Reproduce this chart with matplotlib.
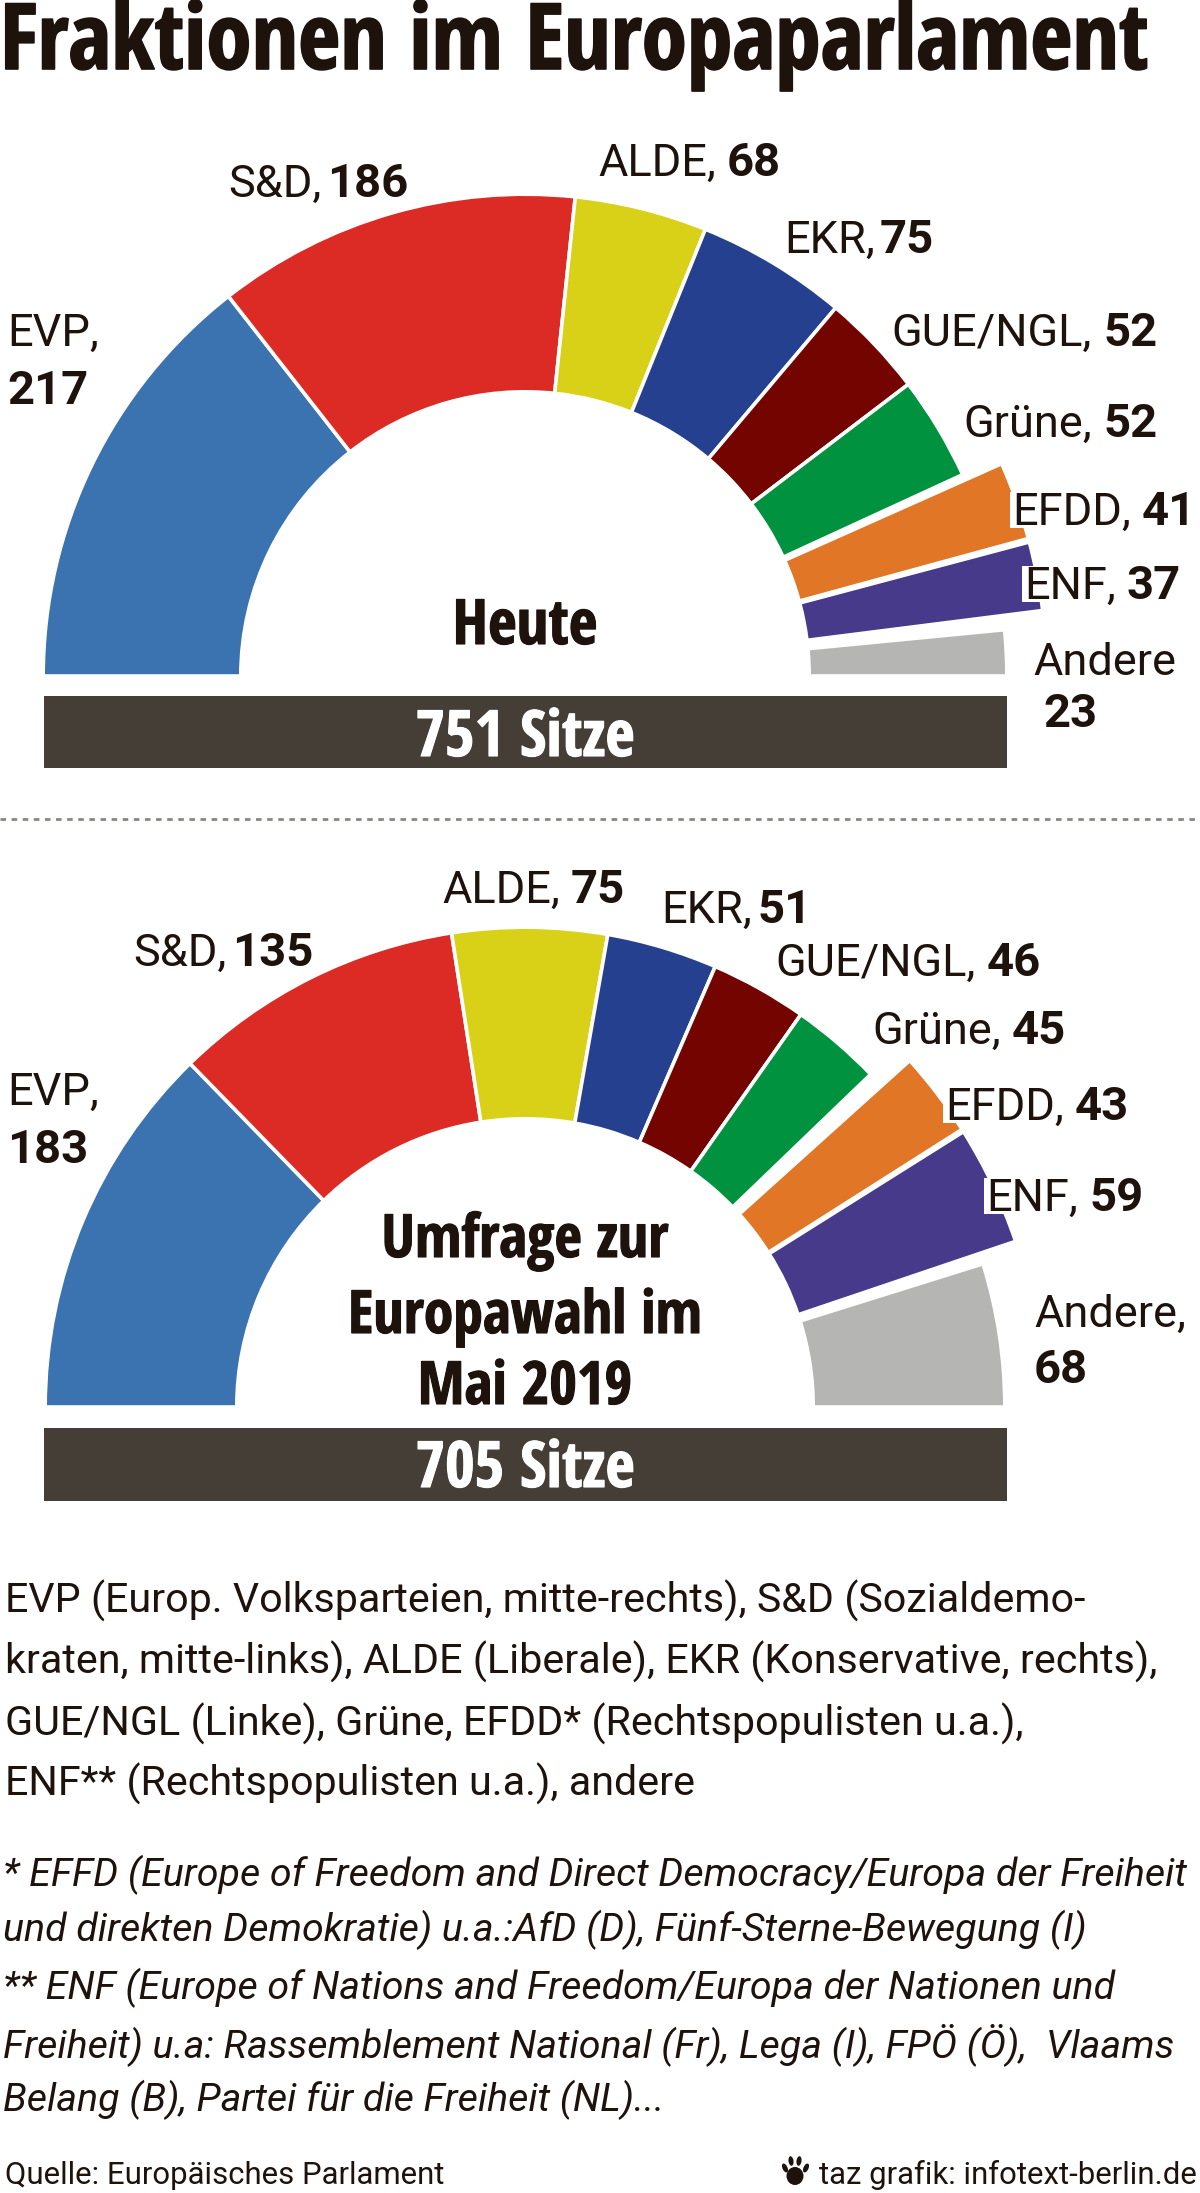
#!/usr/bin/env python3
# Fraktionen im Europaparlament - two half-circle seat charts, drawn on a pixel canvas
import matplotlib
matplotlib.use("Agg")
import matplotlib.pyplot as plt
import matplotlib.patheffects as pe
from matplotlib.patches import Wedge, Rectangle, Ellipse
from matplotlib.font_manager import FontProperties

groups = ["EVP", "S&D", "ALDE", "EKR", "GUE/NGL", "Grüne", "EFDD", "ENF", "Andere"]
seats_today = [217, 186, 68, 75, 52, 52, 41, 37, 23]
seats_poll = [183, 135, 75, 51, 46, 45, 43, 59, 68]
colors = ["#3b73b0", "#dc2b25", "#d9d118", "#25408f", "#730400",
          "#00923f", "#e07626", "#483a8a", "#b5b5b4"]

TEXT = "#1e130c"
BAR = "#453e37"
LABEL_SIZE = 32.5
NUM_SIZE = 34

W, H = 1200, 2193
fig = plt.figure(figsize=(W / 100, H / 100), dpi=100)
ax = fig.add_axes([0, 0, 1, 1])
ax.set_xlim(0, W)
ax.set_ylim(H, 0)
ax.axis("off")
renderer = fig.canvas.get_renderer()

cond_bold = dict(family="Open Sans Condensed", stretch="condensed", weight=700)


def thin(x, y, s, size=LABEL_SIZE, ha="left", box=False, **kw):
    t = ax.text(x, y, s, fontproperties=FontProperties(size=size, family="Roboto", **kw), ha=ha,
                va="baseline", color=TEXT, zorder=5)
    if box:
        # white notch in the wedge behind the label, down to just under the baseline
        bb = t.get_window_extent(renderer)
        top = H - bb.y1
        ax.add_patch(Rectangle((bb.x0 - 2, top), bb.width + 2, y + 3 - top,
                               facecolor="white", edgecolor="none", zorder=4))
    return t


def number(x, y, s, size=NUM_SIZE):
    return ax.text(x, y, s, fontproperties=FontProperties(size=size, family="Roboto", weight=700),
                   va="baseline", color=TEXT, zorder=6)


def heavy(x, y, s, size=42, ha="center", color=TEXT, stroke=0.8):
    return ax.text(x, y, s, fontproperties=FontProperties(size=size, **cond_bold), ha=ha,
                   va="baseline", color=color, zorder=6,
                   path_effects=[pe.withStroke(linewidth=stroke, foreground=color)])


def half_circle(values, cx, cy, r_in, r_out, pads, big):
    # pads: degrees added to start/end of a wedge, big: outer radius of pulled out wedges
    total = sum(values)
    cum = 0
    for i, v in enumerate(values):
        t1 = 180 + cum / total * 180 + pads.get(i, (0, 0))[0]
        t2 = 180 + (cum + v) / total * 180 + pads.get(i, (0, 0))[1]
        cum += v
        rr = big.get(i, r_out) + 1.8
        ax.add_patch(Wedge((cx, cy), rr, t1, t2, width=rr - r_in + 1.8,
                           facecolor=colors[i], edgecolor="white", linewidth=2.6, zorder=2))


half_circle(seats_today, 525, 676, 286, 480,
            {1: (0, -0.6), 2: (-0.6, -0.9), 3: (-0.9, -0.7), 4: (-0.7, -0.6), 5: (-0.6, -0.5),
             6: (0.2, -0.9), 7: (-0.5, -1.7)}, {6: 520, 7: 520})
half_circle(seats_poll, 525, 1407, 290, 478,
            {0: (0, -1.0), 1: (-1.0, 0), 2: (0, -0.4), 3: (-0.4, 0), 5: (0, -0.5),
             6: (1.4, 0), 7: (0.3, -1.3)}, {6: 516, 7: 516})

# white strip below the wedges, so that Andere ends flat
ax.add_patch(Rectangle((0, 676), W, 20, facecolor="white", edgecolor="none", zorder=3))
ax.add_patch(Rectangle((0, 1407), W, 21, facecolor="white", edgecolor="none", zorder=3))

ax.add_patch(Rectangle((44, 696), 963, 72, facecolor=BAR, edgecolor="none", zorder=4))
ax.add_patch(Rectangle((44, 1428), 963, 73, facecolor=BAR, edgecolor="none", zorder=4))
ax.plot([0, W], [819, 819], color="#8a8680", lw=2, ls=(0, (2, 2)), zorder=1)

heavy(0, 69, "Fraktionen im Europaparlament", size=66, ha="left", stroke=1.2)

# labels: name right aligned, seats left aligned, around the same x
labels_today = [(322, 197, 1), (716, 176, 2), (875, 253, 3), (1092, 346, 4),
                (1092, 437, 5), (1131, 525, 6), (1116, 599, 7)]
labels_poll = [(227, 966, 1), (560, 903, 2), (752, 923, 3), (976, 976, 4),
               (1001, 1044, 5), (1064, 1120, 6), (1078, 1211, 7)]

for series, lab in ((seats_today, labels_today), (seats_poll, labels_poll)):
    for x, y, i in lab:
        thin(x, y, groups[i] + ",", ha="right", box=i in (6, 7))
        number(x + (5 if i in (1, 3) else 11), y, str(series[i]))

thin(7, 346, "EVP,")
number(7, 404, str(seats_today[0]))
thin(1033, 675, "Andere")
number(1043, 727, str(seats_today[8]))
thin(7, 1105, "EVP,")
number(7, 1163, str(seats_poll[0]))
thin(1034, 1327, "Andere,")
number(1034, 1383, str(seats_poll[8]))

heavy(525, 644, "Heute", size=45)
heavy(525, 756, "751 Sitze", size=46, color="white")
heavy(525, 1257, "Umfrage zur", size=43)
heavy(525, 1333, "Europawahl im", size=43)
heavy(525, 1404, "Mai 2019", size=43)
heavy(525, 1487, "705 Sitze", size=46, color="white")

body = ["EVP (Europ. Volksparteien, mitte-rechts), S&D (Sozialdemo-",
        "kraten, mitte-links), ALDE (Liberale), EKR (Konservative, rechts),",
        "GUE/NGL (Linke), Grüne, EFDD* (Rechtspopulisten u.a.),",
        "ENF** (Rechtspopulisten u.a.), andere"]
for line, y in zip(body, [1613, 1674, 1736, 1796]):
    thin(5, y, line, size=29.7)

notes = ["* EFFD (Europe of Freedom and Direct Democracy/Europa der Freiheit",
         "und direkten Demokratie) u.a.:AfD (D), Fünf-Sterne-Bewegung (I)",
         "** ENF (Europe of Nations and Freedom/Europa der Nationen und",
         "Freiheit) u.a: Rassemblement National (Fr), Lega (I), FPÖ (Ö),  Vlaams",
         "Belang (B), Partei für die Freiheit (NL)..."]
for line, y in zip(notes, [1886, 1941, 1999, 2057, 2111]):
    thin(3, y, line, size=28.4, style="italic")

thin(5, 2184, "Quelle: Europäisches Parlament", size=22.4)
thin(1197, 2184, "taz grafik: infotext-berlin.de", size=22.4, ha="right")

# taz paw
for px, py, a, b, rot in [(795, 2176, 17, 15, 0), (785, 2168, 5, 8, -25), (791, 2161, 5, 8, -8),
                          (799, 2161, 5, 8, 8), (806, 2168, 5, 8, 25)]:
    ax.add_patch(Ellipse((px, py), a, b * 1.2, angle=rot, facecolor=TEXT, edgecolor="none", zorder=5))

fig.savefig("out.png", dpi=100)
